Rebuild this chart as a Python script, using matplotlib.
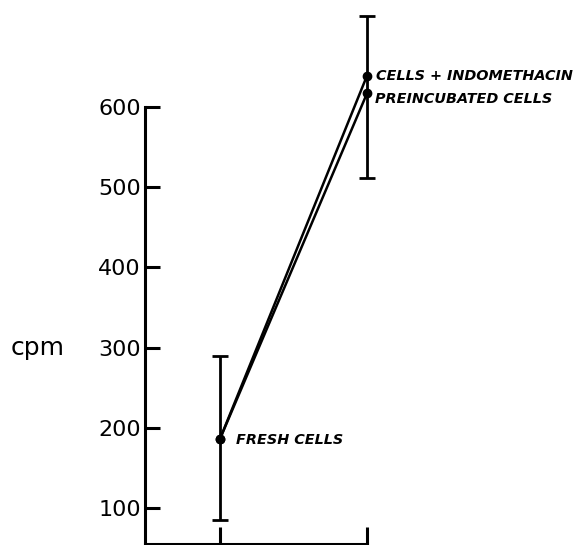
import numpy as np
import matplotlib
matplotlib.use('Agg')
import matplotlib.pyplot as plt

# values
x_pos = np.array([1, 2])
indomethacin = np.array([186, 639])
preincubated = np.array([186, 617])
err_low = np.array([85, 511])
err_high = np.array([290, 714])
yticks = [100, 200, 300, 400, 500, 600]

fig = plt.figure(figsize=(5.86, 5.45), dpi=100)
ax = fig.add_axes([145/586, 1/545, 222/586, 437/545])

ax.plot(x_pos, indomethacin, color='black', lw=1.8, marker='o', ms=6, clip_on=False)
ax.plot(x_pos, preincubated, color='black', lw=1.8, marker='o', ms=6, clip_on=False)
ax.errorbar(x_pos, preincubated, yerr=[preincubated - err_low, err_high - preincubated],
            fmt='none', ecolor='black', elinewidth=2, capsize=5.5, capthick=2, clip_on=False)

lab = dict(textcoords='offset points', va='center', ha='left', fontsize=10.4,
           fontweight='bold', fontstyle='italic', annotation_clip=False)
ax.annotate('CELLS + INDOMETHACIN', (x_pos[1], indomethacin[1]), xytext=(6.5, 0), **lab)
ax.annotate('PREINCUBATED CELLS', (x_pos[1], preincubated[1]), xytext=(6, -4), **lab)
ax.annotate('FRESH CELLS', (x_pos[0], preincubated[0]), xytext=(11.5, -1), **lab)

ax.set_xlim(0.49, 2.0)
ax.set_ylim(55, 600)
ax.spines['top'].set_visible(False)
ax.spines['right'].set_visible(False)
ax.spines['left'].set_linewidth(2.2)
ax.spines['bottom'].set_linewidth(2.2)

ax.set_yticks(yticks)
ax.set_xticks(x_pos)
ax.set_xticklabels([])
ax.tick_params(axis='y', direction='in', length=11, width=2.2, labelsize=16, pad=3)
ax.tick_params(axis='x', direction='in', length=12, width=2.2)

ax.set_ylabel('cpm', rotation=0, fontsize=18, ha='center', va='center')
ax.yaxis.set_label_coords(-0.482, (300 - 55) / 545)

fig.savefig('out.png', dpi=100)
